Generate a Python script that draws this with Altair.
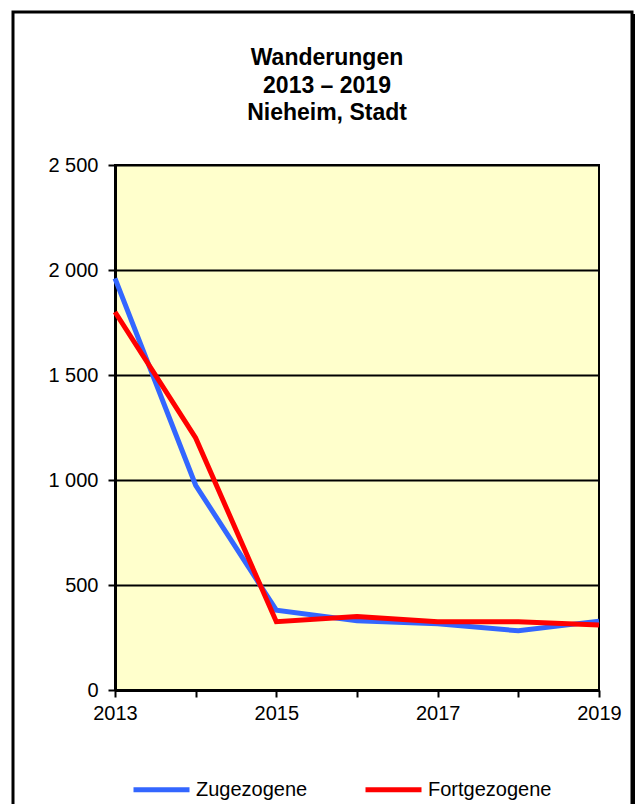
import altair as alt
import pandas as pd

years = [2013, 2014, 2015, 2016, 2017, 2018, 2019]
zugezogene = [1960, 975, 380, 330, 315, 282, 328]
fortgezogene = [1800, 1200, 325, 350, 325, 325, 310]
series_names = ["Zugezogene", "Fortgezogene"]
series_colors = ["#3366FF", "#FF0000"]
title_lines = ["Wanderungen", "2013 – 2019", "Nieheim, Stadt"]
y_ticks = [0, 500, 1000, 1500, 2000, 2500]

rows = []
for i, yr in enumerate(years):
    rows.append({"Jahr": yr, "Wert": zugezogene[i], "Reihe": series_names[0]})
for i, yr in enumerate(years):
    rows.append({"Jahr": yr, "Wert": fortgezogene[i], "Reihe": series_names[1]})
df = pd.DataFrame(rows)

W, H = 484, 525
FONT = "Liberation Sans"
dummy = pd.DataFrame({"a": [0]})

border = alt.Chart(dummy).mark_rect(fill="transparent", stroke="black", strokeWidth=3).encode(
    x=alt.value(-102), x2=alt.value(517), y=alt.value(-153), y2=alt.value(670)
)
shadow = alt.Chart(dummy).mark_rule(stroke="black", strokeWidth=3).encode(
    x=alt.value(519), y=alt.value(-151), y2=alt.value(670)
)

title = alt.Chart(dummy).mark_text(
    text=title_lines, font=FONT, fontSize=23, fontWeight="bold", color="black",
    align="center", baseline="alphabetic", lineHeight=27.5
).encode(x=alt.value(212), y=alt.value(-100))

lines = alt.Chart(df).mark_line(strokeWidth=5).encode(
    x=alt.X("Jahr:Q",
            scale=alt.Scale(domain=[2013, 2019], nice=False, zero=False),
            axis=alt.Axis(values=years, format="d", title=None, grid=False,
                          labelExpr="datum.value % 2 == 1 ? datum.label : ''",
                          tickSize=7, tickWidth=2, tickColor="black",
                          domainColor="black", domainWidth=3,
                          labelFont=FONT, labelFontSize=20, labelColor="black",
                          labelPadding=6, labelOverlap=False, labelFlush=False)),
    y=alt.Y("Wert:Q",
            scale=alt.Scale(domain=[0, 2500], nice=False),
            axis=alt.Axis(values=y_ticks, format=",d", title=None,
                          labelExpr="replace(datum.label, ',', ' ')",
                          grid=True, gridColor="black", gridWidth=2, gridOpacity=1,
                          tickSize=7, tickWidth=2, tickColor="black",
                          domainColor="black", domainWidth=3,
                          labelFont=FONT, labelFontSize=20, labelColor="black",
                          labelPadding=10)),
    color=alt.Color("Reihe:N",
                    scale=alt.Scale(domain=series_names, range=series_colors),
                    legend=alt.Legend(title=None, orient="none", legendX=16, legendY=594,
                                      direction="horizontal", symbolType="stroke",
                                      symbolSize=3136, symbolStrokeWidth=5,
                                      labelFont=FONT, labelFontSize=20, labelColor="black",
                                      labelOffset=4, columnPadding=47)),
)

chart = alt.layer(border, shadow, title, lines).properties(
    width=W, height=H,
    autosize=alt.AutoSizeParams(type="none"),
    padding={"left": 107, "top": 157, "right": 36, "bottom": 114},
    background="white",
).configure_view(fill="#FFFFCC", stroke="black", strokeWidth=2)

chart.save("out.html", embed_options={"renderer": "svg", "actions": False})
